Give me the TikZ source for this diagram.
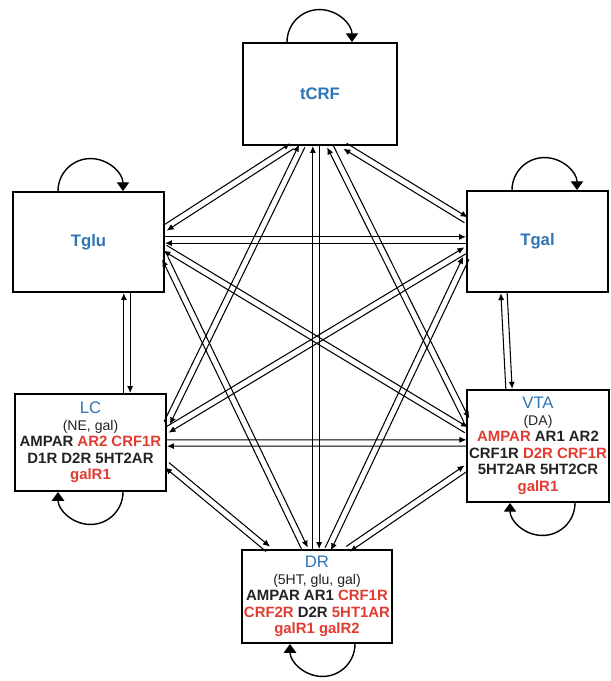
\documentclass[tikz,border=0pt]{standalone}
\usepackage{fontspec}
\setmainfont{Liberation Sans}
\usepackage{tikz}
\usetikzlibrary{calc}
\usetikzlibrary{arrows.meta}
\definecolor{namblue}{RGB}{46,117,182}
\definecolor{recred}{RGB}{226,60,48}
\definecolor{txtgray}{RGB}{35,35,35}
\newcommand{\rc}[1]{\textcolor{recred}{#1}}
\newcommand{\nm}[1]{{\fontsize{9.5}{11}\selectfont\color{namblue}#1}}
\newcommand{\tr}[1]{{\mdseries\fontsize{8}{9.4}\selectfont #1}}

\begin{document}
\begin{tikzpicture}[x=0.02cm, y=0.02cm,
      region/.style ={rectangle, draw, line width=1.1pt, fill=white, align=center, inner sep=1pt,
                      font=\fontsize{8.5}{9.4}\selectfont\bfseries, text=txtgray},
      cn/.style     ={line width=0.6pt, -{Latex[length=4pt,width=3.5pt]}},
      selfloop/.style={line width=0.8pt, -{Triangle[length=5pt,width=7pt]}}
    ]
    \useasboundingbox (0,0) rectangle (610,-681);

    \node [region, minimum width=3.08cm, minimum height=2.04cm] (tCRF) at (320,-94) {\nm{tCRF}} ;
    \node [region, minimum width=3.02cm, minimum height=2.00cm] (Tglu) at (88.5,-242) {\nm{Tglu}} ;
    \node [region, minimum width=2.82cm, minimum height=2.02cm] (Tgal) at (537.5,-241.5) {\nm{Tgal}} ;
    \node [region, minimum width=3.02cm, minimum height=1.94cm] (LC) at (90.5,-442.5)
      {\nm{\mdseries LC}\\ \tr{(NE, gal)}\\ AMPAR \rc{AR2 CRF1R}\\ D1R D2R 5HT2AR\\ \rc{galR1}} ;
    \node [region, minimum width=2.80cm, minimum height=2.24cm] (VTA) at (538,-446)
      {\nm{\mdseries VTA}\\ \tr{(DA)}\\ \rc{AMPAR} AR1 AR2\\ CRF1R \rc{D2R CRF1R}\\ 5HT2AR 5HT2CR\\ \rc{galR1}} ;
    \node [region, minimum width=2.92cm, minimum height=1.86cm] (DR) at (317,-596.5)
      {\nm{\mdseries DR}\\ \tr{(5HT, glu, gal)}\\ AMPAR AR1 \rc{CRF1R}\\ \rc{CRF2R} D2R \rc{5HT1AR}\\ \rc{galR1 galR2}} ;

    % two-way links between every pair of regions
    \foreach \a/\ax/\ay/\b/\bx/\by in {
        tCRF.south/-28/0/Tglu.east/0/14,
        tCRF.south/25/0/Tgal.west/0/21.5,
        tCRF.south/-18/0/LC.east/0/19.5,
        tCRF.south/10/0/VTA.west/0/26,
        tCRF.south/-4/0/DR.north/-1/0,
        Tglu.east/0/2/Tgal.west/0/1.5,
        Tglu.south/38.5/0/LC.north/36.5/0,
        Tglu.east/0/-6/VTA.west/0/16,
        Tglu.east/0/-16/DR.north/-12/0,
        Tgal.west/0/-8.5/LC.east/0/12.5,
        Tgal.west/0/-16.5/DR.north/11/0,
        Tgal.south/-33.5/0/VTA.north/-29/0,
        LC.east/0/-0.5/VTA.west/0/3,
        LC.east/0/-22.5/DR.north/-49/0,
        VTA.west/0/-22/DR.north/31/0}{
      \coordinate (s) at ($(\a)+(\ax,\ay)$) ;
      \coordinate (t) at ($(\b)+(\bx,\by)$) ;
      \draw [cn] ($(s)!1.8pt!90:(t)$) -- ($(t)!1.8pt!-90:(s)$) ;
      \draw [cn] ($(t)!1.8pt!90:(s)$) -- ($(s)!1.8pt!-90:(t)$) ;
    }

    % self loops
    \draw [selfloop] ([xshift=-0.66cm]tCRF.north) arc[start angle=180, end angle=0, radius=0.65cm] ;
    \draw [selfloop] ([xshift=-0.61cm]Tglu.north) arc[start angle=180, end angle=0, radius=0.65cm] ;
    \draw [selfloop] ([xshift=-0.51cm]Tgal.north) arc[start angle=180, end angle=0, radius=0.65cm] ;
    \draw [selfloop] ([xshift=0.65cm]LC.south) arc[start angle=0, end angle=-180, radius=0.65cm] ;
    \draw [selfloop] ([xshift=0.74cm]VTA.south) arc[start angle=0, end angle=-180, radius=0.65cm] ;
    \draw [selfloop] ([xshift=0.76cm]DR.south) arc[start angle=0, end angle=-180, radius=0.65cm] ;
  \end{tikzpicture}
\end{document}
